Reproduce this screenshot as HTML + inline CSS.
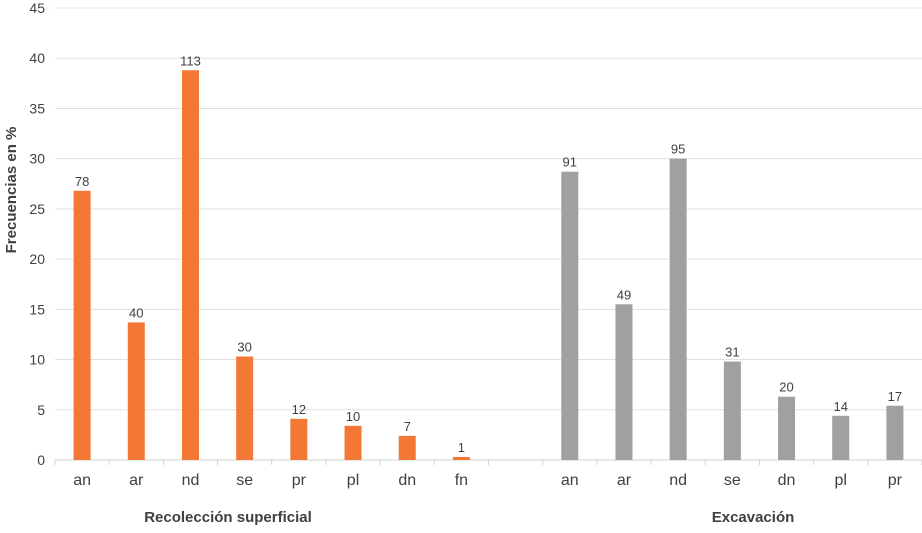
<!DOCTYPE html>
<html><head><meta charset="utf-8"><style>
body{margin:0;background:#fff;}
svg text{font-family:"Liberation Sans",sans-serif;fill:#404040;}
</style></head><body>
<svg width="922" height="528" id="c"></svg>
<script>
const categories=["an","ar","nd","se","pr","pl","dn","fn","","an","ar","nd","se","dn","pl","pr"];
const values=[26.8,13.7,38.8,10.3,4.1,3.4,2.4,0.3,null,28.7,15.5,30.0,9.8,6.3,4.4,5.4];
const labels=["78","40","113","30","12","10","7","1","","91","49","95","31","20","14","17"];
const yTicks=[0,5,10,15,20,25,30,35,40,45];
const groupNames=["Recolección superficial","Excavación"];
const svg=document.getElementById('c');const NS='http://www.w3.org/2000/svg';
const x0=55,x1=922,yBase=460,yTop=8,yMax=45;
const slot=(x1-x0)/categories.length;
const y=v=>yBase-(v/yMax)*(yBase-yTop);
const xc=i=>x0+slot*(i+0.5);
function mk(t,a,txt){const e=document.createElementNS(NS,t);for(const k in a)e.setAttribute(k,a[k]);if(txt!=null)e.textContent=txt;svg.appendChild(e);return e;}
yTicks.forEach(t=>{
 const g=mk('line',{x1:x0,x2:x1,y1:y(t),y2:y(t),stroke:t===0?'#d0d0d0':'#e0e0e0','stroke-width':1});
 
 
 const l=mk('text',{x:45,y:y(t)+5,'text-anchor':'end','font-size':14},t);
 
 
});
for(let i=0;i<=categories.length;i++){
 const tk=mk('line',{x1:x0+slot*i,x2:x0+slot*i,y1:yBase,y2:yBase+5,stroke:'#d0d0d0'});
 
 
}
categories.forEach((c,i)=>{
 if(values[i]==null)return;
 const col=i<8?'#f37735':'#a0a0a0';
 const b=mk('rect',{x:xc(i)-8.5,y:y(values[i]),width:17,height:yBase-y(values[i]),fill:col});
 
 
 const v=mk('text',{x:xc(i),y:y(values[i])-5,'text-anchor':'middle','font-size':13},labels[i]);
 
 
 const cl=mk('text',{x:xc(i),y:485,'text-anchor':'middle','font-size':16},c);
 
 
});
const g1=mk('text',{x:228,y:522,'text-anchor':'middle','font-size':15,'font-weight':'bold'},groupNames[0]);


const g2=mk('text',{x:753,y:522,'text-anchor':'middle','font-size':15,'font-weight':'bold'},groupNames[1]);


const yt=mk('text',{x:0,y:0,'text-anchor':'middle','font-size':15,'font-weight':'bold',transform:'translate(16,190) rotate(-90)'},'Frecuencias en %');


</script>
</body></html>
